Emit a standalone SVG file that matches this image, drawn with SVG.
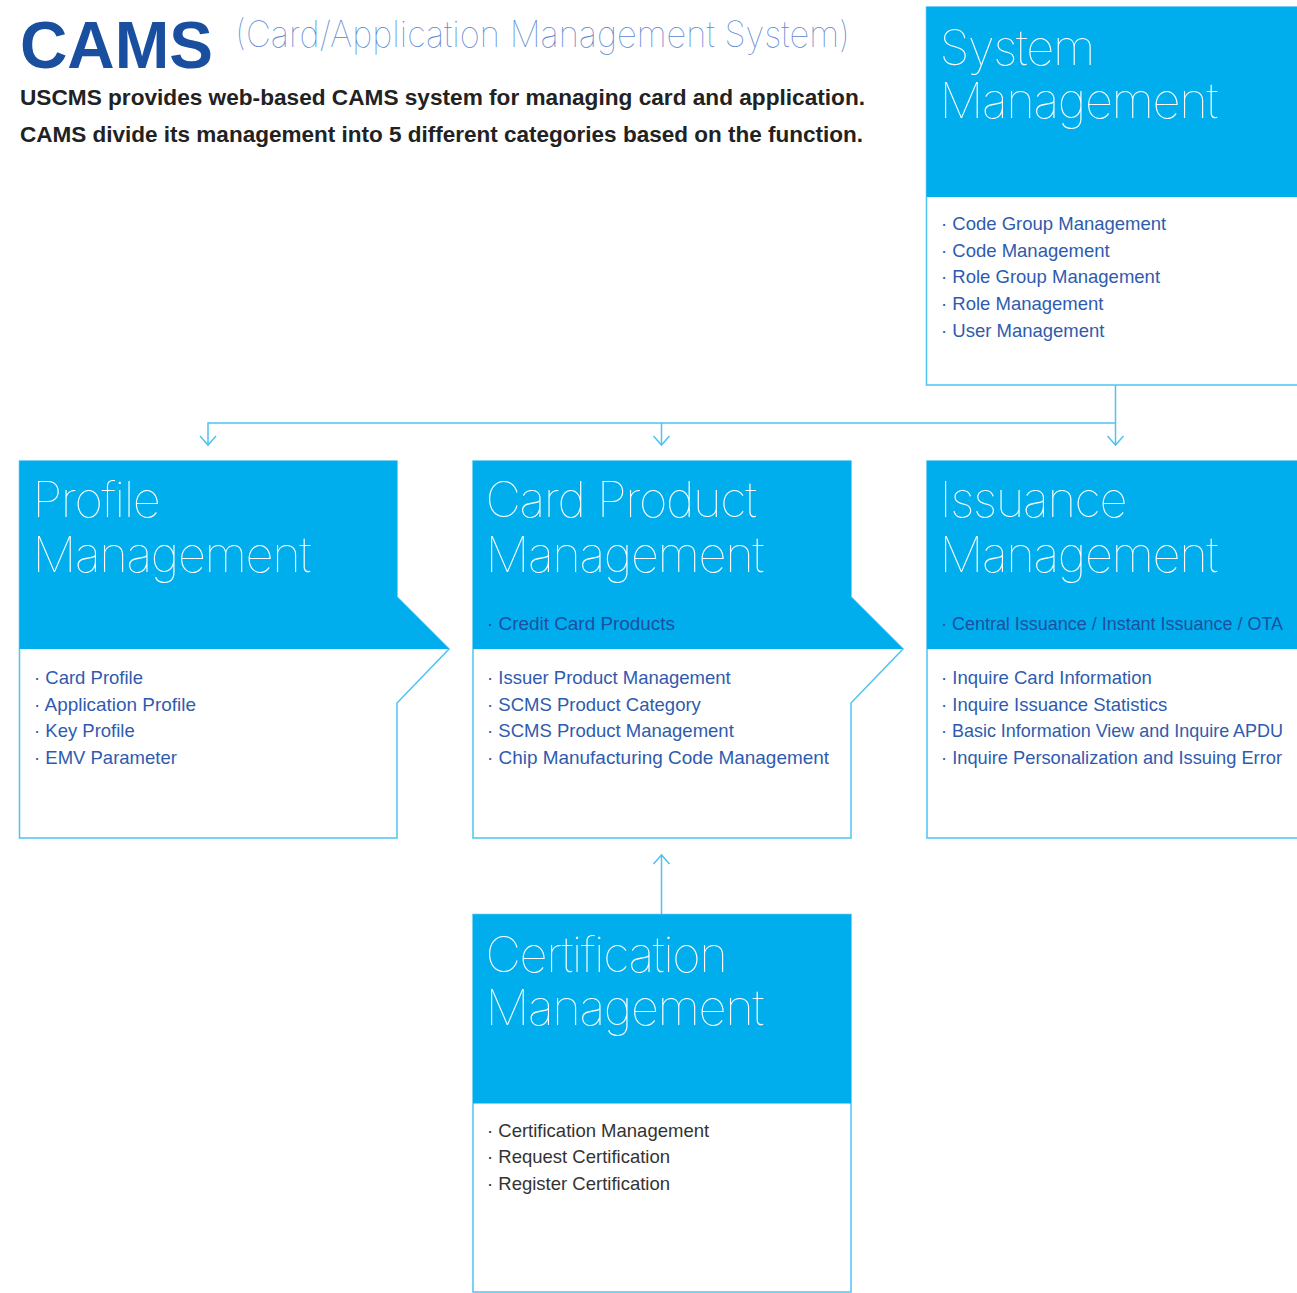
<svg xmlns="http://www.w3.org/2000/svg" width="1297" height="1293" viewBox="0 0 1297 1293">
<defs>
<style>
.hdr{fill:#00AEEE;}
.outline{fill:#fff;stroke:#4EC3F0;stroke-width:1.5;}
.conn{fill:none;stroke:#4EC3F0;stroke-width:1.5;}
.title{font-family:Inter,"Open Sans","Noto Sans",sans-serif;font-weight:100;fill:#fff;font-size:49px;letter-spacing:-1.4px;}
.item{font-family:"Liberation Sans",Arial,sans-serif;font-size:18.5px;fill:#2F5BAE;}
.sub{font-family:"Liberation Sans",Arial,sans-serif;font-size:18.5px;fill:#1E4FA0;}
.gray{font-family:"Liberation Sans",Arial,sans-serif;font-size:18.5px;fill:#333;}
.lead{font-family:"Liberation Sans",Arial,sans-serif;font-weight:bold;font-size:22px;fill:#222;}
</style>
<marker id="chev" markerUnits="userSpaceOnUse" markerWidth="20" markerHeight="20" refX="0" refY="0" orient="auto" overflow="visible">
<path d="M-9,-8 L0,0 L-9,8" fill="none" stroke="#4EC3F0" stroke-width="1.5"/>
</marker>
</defs>
<rect width="1297" height="1293" fill="#fff"/>

<g id="heading">
<text x="20" y="68" font-family="'Liberation Sans',Arial,sans-serif" font-weight="bold" font-size="66" fill="#1A4FA0" textLength="193" lengthAdjust="spacingAndGlyphs">CAMS</text>
<text x="235" y="47" font-family="Inter,'Open Sans','Noto Sans',sans-serif" font-weight="100" font-size="36" fill="#5B86CF" textLength="615" lengthAdjust="spacingAndGlyphs">(Card/Application Management System)</text>
<text class="lead" x="20" y="105" textLength="845" lengthAdjust="spacingAndGlyphs">USCMS provides web-based CAMS system for managing card and application.</text>
<text class="lead" x="20" y="142" textLength="843" lengthAdjust="spacingAndGlyphs">CAMS divide its management into 5 different categories based on the function.</text>
</g>

<g id="connectors">
<path class="conn" d="M1115.5,385 V445" marker-end="url(#chev)"/>
<path class="conn" d="M1115.5,423 H208 V445" marker-end="url(#chev)"/>
<path class="conn" d="M661.5,423 V445" marker-end="url(#chev)"/>
<path class="conn" d="M661.5,914 V855" marker-end="url(#chev)"/>
</g>

<g id="system-management">
<rect class="outline" x="926.5" y="7" width="380" height="378"/>
<rect class="hdr" x="926.5" y="7" width="380" height="190"/>
<text class="title" x="939.5" y="65">System</text>
<text class="title" x="939.5" y="118">Management</text>
<text class="item" x="941" y="230">· Code Group Management</text>
<text class="item" x="941" y="257">· Code Management</text>
<text class="item" x="941" y="283">· Role Group Management</text>
<text class="item" x="941" y="310">· Role Management</text>
<text class="item" x="941" y="337">· User Management</text>
</g>

<g id="profile-management">
<path class="outline" d="M19.5,461 H397 V597 L449,649 L397,703 V838 H19.5 Z"/>
<path class="hdr" d="M19.5,461 H397 V597 L449,649 H19.5 Z"/>
<text class="title" x="32.5" y="517">Profile</text>
<text class="title" x="32.5" y="572">Management</text>
<text class="item" x="34" y="684">· Card Profile</text>
<text class="item" x="34" y="711" textLength="162" lengthAdjust="spacingAndGlyphs">· Application Profile</text>
<text class="item" x="34" y="737">· Key Profile</text>
<text class="item" x="34" y="764">· EMV Parameter</text>
</g>

<g id="card-product-management">
<path class="outline" d="M473,461 H851 V597 L903,649 L851,703 V838 H473 Z"/>
<path class="hdr" d="M473,461 H851 V597 L903,649 H473 Z"/>
<text class="title" x="485.5" y="517">Card Product</text>
<text class="title" x="485.5" y="572">Management</text>
<text class="sub" x="487" y="630" textLength="188" lengthAdjust="spacingAndGlyphs">· Credit Card Products</text>
<text class="item" x="487" y="684">· Issuer Product Management</text>
<text class="item" x="487" y="711">· SCMS Product Category</text>
<text class="item" x="487" y="737">· SCMS Product Management</text>
<text class="item" x="487" y="764" textLength="342" lengthAdjust="spacingAndGlyphs">· Chip Manufacturing Code Management</text>
</g>

<g id="issuance-management">
<rect class="outline" x="927" y="461" width="380" height="377"/>
<rect class="hdr" x="927" y="461" width="380" height="188"/>
<text class="title" x="939.5" y="517">Issuance</text>
<text class="title" x="939.5" y="572">Management</text>
<text class="sub" x="941" y="630" textLength="342" lengthAdjust="spacingAndGlyphs">· Central Issuance / Instant Issuance / OTA</text>
<text class="item" x="941" y="684">· Inquire Card Information</text>
<text class="item" x="941" y="711">· Inquire Issuance Statistics</text>
<text class="item" x="941" y="737" textLength="342" lengthAdjust="spacingAndGlyphs">· Basic Information View and Inquire APDU</text>
<text class="item" x="941" y="764" textLength="341" lengthAdjust="spacingAndGlyphs">· Inquire Personalization and Issuing Error</text>
</g>

<g id="certification-management">
<rect class="outline" x="473" y="914.5" width="378" height="377.5"/>
<rect class="hdr" x="473" y="914.5" width="378" height="189"/>
<text class="title" x="485.5" y="972">Certification</text>
<text class="title" x="485.5" y="1025">Management</text>
<text class="gray" x="487" y="1137">· Certification Management</text>
<text class="gray" x="487" y="1163">· Request Certification</text>
<text class="gray" x="487" y="1190">· Register Certification</text>
</g>
</svg>
